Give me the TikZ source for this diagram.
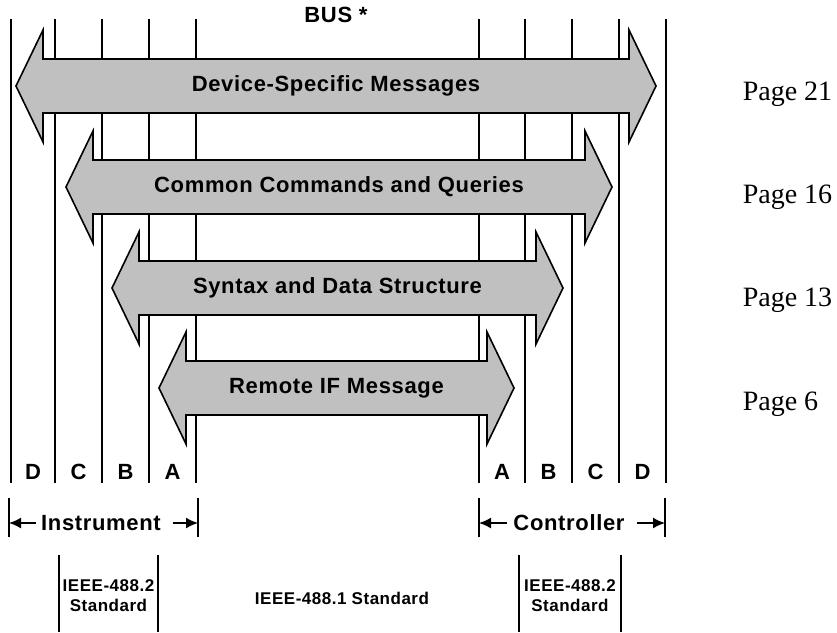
\documentclass[tikz,border=0pt]{standalone}
\usepackage{fontspec}
\setmainfont{Liberation Serif}
\newfontfamily\busfont{Liberation Sans}[LetterSpace=3]
\usetikzlibrary{arrows.meta}
\definecolor{msggray}{RGB}{192,192,192}

\begin{document}
\begin{tikzpicture}[x=1pt,y=-1pt,line width=1.6pt,
  msg/.style={draw,fill=msggray,line join=miter},
  lbl/.style={font=\busfont\bfseries\fontsize{22}{26}\selectfont,inner sep=0pt},
  std/.style={font=\busfont\bfseries\fontsize{17}{20}\selectfont,align=center,inner sep=0pt},
  page/.style={font=\fontsize{28}{32}\selectfont,anchor=base west,inner sep=0pt},
  span/.style={-{Latex[length=12pt,width=11pt]}}]
  \useasboundingbox (0,0) rectangle (837,632);
  % bus lines
  \foreach \x in {11,55,102,149,196,479,525,572,619,666}
    \draw (\x,19) -- (\x,483);
  \node[lbl] (bus) at (336,15) {BUS *};
  % message arrows: left tip / right tip / centre / text
  \foreach \l/\r/\y/\t [count=\i] in {16/656/86/Device-Specific Messages,
      66/612/187/Common Commands and Queries,
      112/563/288/Syntax and Data Structure,
      159/514/388/Remote IF Message}{
    \draw[msg] (\l,\y) -- (\l+27,\y-56) -- (\l+27,\y-27) -- (\r-27,\y-27)
      -- (\r-27,\y-56) -- (\r,\y) -- (\r-27,\y+56) -- (\r-27,\y+27)
      -- (\l+27,\y+27) -- (\l+27,\y+56) -- cycle;
    \node[lbl] (msg\i) at ({(\l+\r)/2},\y) {\t};
  }
  \foreach \p/\y in {21/100,16/203,13/306,6/410}
    \node[page] (page\p) at (742,\y) {Page \p};
  % layers
  \foreach \x/\c [count=\i] in {33/D,78.5/C,125.5/B,172.5/A,502/A,548.5/B,595.5/C,642.5/D}
    \node[lbl] (col\i) at (\x,472) {\c};
  % instrument / controller
  \foreach \x/\n in {9/iL,198/iR,479/cL,665/cR}{
    \coordinate (\n) at (\x,523);
    \draw (\x,498) -- (\x,537);
  }
  \node[lbl] (instr) at (101,523) {Instrument};
  \node[lbl] (ctrl) at (569,523) {Controller};
  \draw[span] ([xshift=-4pt]instr.west) -- (iL);
  \draw[span] ([xshift=11pt]instr.east) -- (iR);
  \draw[span] ([xshift=-6pt]ctrl.west) -- (cL);
  \draw[span] ([xshift=12pt]ctrl.east) -- (cR);
  % standards
  \foreach \x in {59,158,519,621}
    \draw (\x,555) -- (\x,632);
  \node[std] (stdi) at (108.5,596) {IEEE-488.2\\Standard};
  \node[std] (stdbus) at (342,598) {IEEE-488.1 Standard};
  \node[std] (stdc) at (570,596) {IEEE-488.2\\Standard};
\end{tikzpicture}
\end{document}
